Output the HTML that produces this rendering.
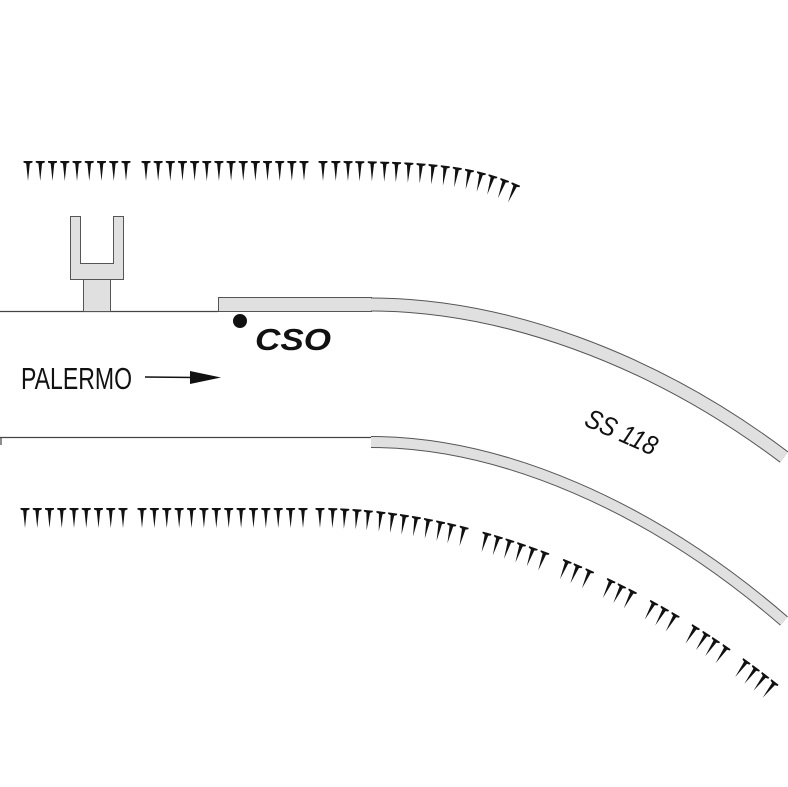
<!DOCTYPE html>
<html><head><meta charset="utf-8"><style>html,body{margin:0;padding:0;background:#fff}svg{display:block}</style></head>
<body>
<svg id="s" width="788" height="787" viewBox="0 0 788 787" xmlns="http://www.w3.org/2000/svg">
<rect width="788" height="787" fill="#fff"/>
<line x1="0" y1="311.5" x2="218" y2="311.5" stroke="#444" stroke-width="1.2"/>
<line x1="0" y1="437.5" x2="371" y2="437.5" stroke="#444" stroke-width="1.2"/>
<line x1="1" y1="437" x2="1" y2="445" stroke="#444" stroke-width="1.2"/>
<path d="M70.5,216.5 H80.5 V263.5 H113.5 V216.5 H123.5 V279.5 H70.5 Z" fill="#e0e0e0" stroke="#555" stroke-width="1"/>
<rect x="83.5" y="279.5" width="27" height="32" fill="#e0e0e0" stroke="#555" stroke-width="1"/>
<rect x="218.5" y="297.5" width="153" height="14" fill="#e0e0e0" stroke="#555" stroke-width="1"/>
<path d="M371,304.5 C500,304.5 650,356 784,457" fill="none" stroke="#555" stroke-width="14"/>
<path d="M371,304.5 C500,304.5 650,356 784,457" fill="none" stroke="#e0e0e0" stroke-width="12"/>
<path d="M371,442 C500,442 650,505 784,621" fill="none" stroke="#555" stroke-width="12"/>
<path d="M371,442 C500,442 650,505 784,621" fill="none" stroke="#e0e0e0" stroke-width="10"/>
<circle cx="240" cy="321" r="7" fill="#111"/>
<text x="255" y="350" font-family="Liberation Sans, sans-serif" font-size="31" font-weight="bold" font-style="italic" fill="#111" textLength="76" lengthAdjust="spacingAndGlyphs">CSO</text>
<text x="21" y="389" font-family="Liberation Sans, sans-serif" font-size="31" fill="#111" textLength="111" lengthAdjust="spacingAndGlyphs">PALERMO</text>
<line x1="145" y1="377" x2="195" y2="377.5" stroke="#111" stroke-width="1.5"/>
<polygon points="190,371 221,377.5 190,384" fill="#111"/>
<text x="0" y="0" transform="translate(583,425) rotate(24)" font-family="Liberation Sans, sans-serif" font-size="27" font-style="italic" fill="#111" textLength="76" lengthAdjust="spacingAndGlyphs">SS 118</text>
<g id="sp" fill="#111"></g>
</svg>
<script>
var g=document.getElementById('sp');
function spike(x,y,a){var p=document.createElementNS('http://www.w3.org/2000/svg','path');
p.setAttribute('d','M-4.5,0 H4.5 V1.5 L1.8,2.5 L0,20 L-1.8,2.5 L-4.5,1.5 Z');
p.setAttribute('transform','translate('+x+','+y+') rotate('+a+')');g.appendChild(p);}
function row(x0,x1,n,y){for(var i=0;i<n;i++){spike(x0+(x1-x0)*i/(n-1),y,0);}}
function bez(P,t){var u=1-t;return [u*u*u*P[0][0]+3*u*u*t*P[1][0]+3*u*t*t*P[2][0]+t*t*t*P[3][0],u*u*u*P[0][1]+3*u*u*t*P[1][1]+3*u*t*t*P[2][1]+t*t*t*P[3][1]];}
function curve(P,n,skip){var N=400,L=[0],prev=bez(P,0);for(var i=1;i<=N;i++){var q=bez(P,i/N);L.push(L[i-1]+Math.hypot(q[0]-prev[0],q[1]-prev[1]));prev=q;}
var tot=L[N];for(var k=0;k<n;k++){if(skip&&skip.indexOf(k)>=0)continue;var d=tot*k/(n-1),j=0;while(j<N&&L[j]<d)j++;var t=j/N;var a=bez(P,Math.max(0,t-0.003)),b=bez(P,Math.min(1,t+0.003));var ang=Math.atan2(b[1]-a[1],b[0]-a[0])*180/Math.PI;var p=bez(P,t);spike(p[0],p[1],ang);}}
row(28,126,9,161);row(146,304,14,161);
curve([[323,161],[420,161],[470,164],[516,184]],17);
row(25,123,9,508);row(142,303,14,508);
curve([[320,508],[450,508],[620,560],[775,682]],42,[13,20,24,28,32,37]);
</script>
</body></html>
